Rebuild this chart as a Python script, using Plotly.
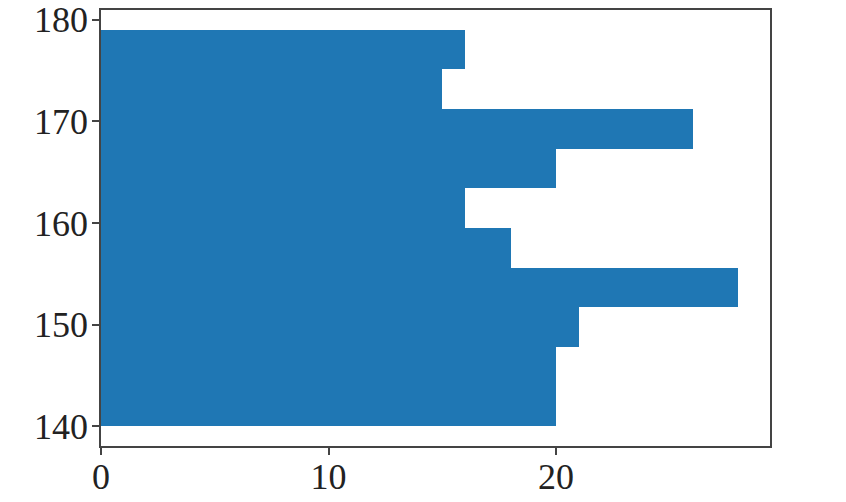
import numpy as np
import plotly.graph_objects as go

# histogram of heights: 10 bins between 140 and 179
bin_edges = [140.0, 143.9, 147.8, 151.7, 155.6, 159.5, 163.4, 167.3, 171.2, 175.1, 179.0]
counts = [20, 20, 21, 28, 18, 16, 20, 26, 15, 16]
x_ticks = [0, 10, 20]
y_ticks = [140, 150, 160, 170, 180]

edges = np.array(bin_edges)
centers = (edges[:-1] + edges[1:]) / 2
widths = np.diff(edges)

fig = go.Figure(go.Bar(
    x=counts, y=centers, width=widths, orientation="h",
    marker=dict(color="#1f77b4", line=dict(width=0)),
))

axis_style = dict(
    showline=True, linecolor="#444", linewidth=1.5, mirror=True,
    ticks="outside", ticklen=7, tickwidth=1.5, tickcolor="#444",
    showgrid=False, zeroline=False, automargin=False,
    ticklabeloverflow="allow",
    tickfont=dict(family="Liberation Serif", size=36, color="#222"),
)

fig.update_xaxes(range=[0, max(counts) * 1.05], tickvals=x_ticks,
                 ticklabelstandoff=-9, **axis_style)
fig.update_yaxes(range=[bin_edges[0] - 0.05 * (bin_edges[-1] - bin_edges[0]),
                        bin_edges[-1] + 0.05 * (bin_edges[-1] - bin_edges[0])],
                 tickvals=y_ticks, ticklabelstandoff=-3, **axis_style)

fig.update_layout(
    width=846, height=502,
    margin=dict(l=101, r=76, t=10, b=56),
    plot_bgcolor="white", paper_bgcolor="white",
    bargap=0, showlegend=False,
)

# drop the page's default 8px body margin so the figure sits at the corner
fig.write_html("out.html", config={"displayModeBar": False},
               post_script="document.body.style.margin='0';")
